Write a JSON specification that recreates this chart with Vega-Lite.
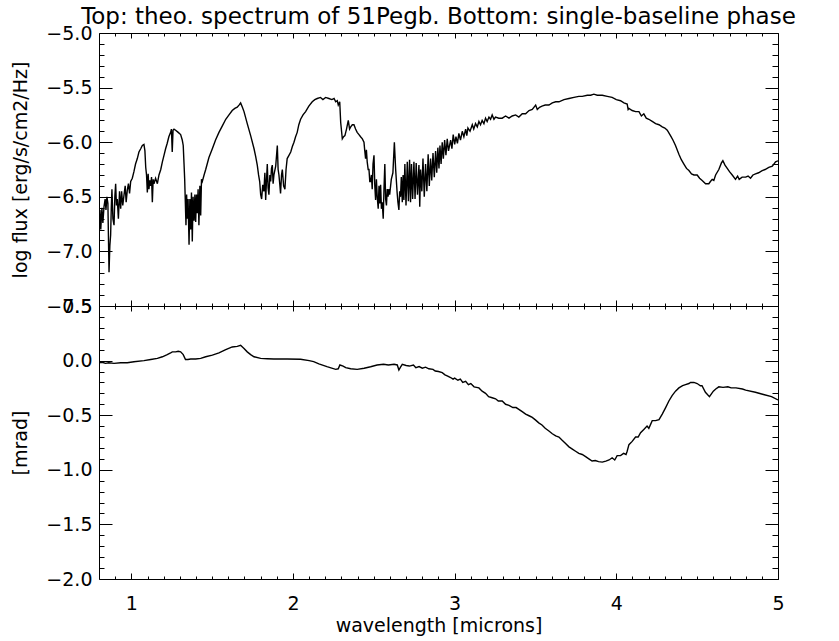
{
  "$schema": "https://vega.github.io/schema/vega-lite/v6.json",
  "background": "white",
  "padding": {"left": 11, "top": 5, "right": 5, "bottom": 5},
  "datasets": {
    "flux": [
      {"wl":0.800,"f":-6.71},{"wl":0.806,"f":-6.62},{"wl":0.811,"f":-6.80},{"wl":0.818,"f":-6.60},{"wl":0.824,"f":-6.74},{"wl":0.831,"f":-6.59},{"wl":0.838,"f":-6.52},{"wl":0.843,"f":-6.62},{"wl":0.849,"f":-6.50},{"wl":0.855,"f":-6.56},{"wl":0.862,"f":-7.19},{"wl":0.867,"f":-6.95},{"wl":0.872,"f":-6.85},{"wl":0.876,"f":-6.60},{"wl":0.880,"f":-6.43},{"wl":0.886,"f":-6.70},{"wl":0.893,"f":-6.76},{"wl":0.898,"f":-6.50},{"wl":0.903,"f":-6.38},{"wl":0.908,"f":-6.58},{"wl":0.913,"f":-6.52},{"wl":0.920,"f":-6.70},{"wl":0.927,"f":-6.45},{"wl":0.934,"f":-6.61},{"wl":0.940,"f":-6.45},{"wl":0.947,"f":-6.58},{"wl":0.955,"f":-6.48},{"wl":0.962,"f":-6.40},{"wl":0.968,"f":-6.55},{"wl":0.975,"f":-6.44},{"wl":0.982,"f":-6.38},{"wl":0.989,"f":-6.47},{"wl":0.996,"f":-6.36},{"wl":1.006,"f":-6.33},{"wl":1.016,"f":-6.27},{"wl":1.026,"f":-6.20},{"wl":1.037,"f":-6.15},{"wl":1.047,"f":-6.09},{"wl":1.058,"f":-6.06},{"wl":1.068,"f":-6.03},{"wl":1.078,"f":-6.02},{"wl":1.084,"f":-6.08},{"wl":1.089,"f":-6.23},{"wl":1.094,"f":-6.30},{"wl":1.099,"f":-6.46},{"wl":1.104,"f":-6.29},{"wl":1.109,"f":-6.43},{"wl":1.114,"f":-6.35},{"wl":1.120,"f":-6.40},{"wl":1.125,"f":-6.32},{"wl":1.130,"f":-6.55},{"wl":1.135,"f":-6.34},{"wl":1.140,"f":-6.38},{"wl":1.150,"f":-6.33},{"wl":1.161,"f":-6.38},{"wl":1.171,"f":-6.30},{"wl":1.182,"f":-6.25},{"wl":1.192,"f":-6.18},{"wl":1.202,"f":-6.12},{"wl":1.212,"f":-6.06},{"wl":1.222,"f":-6.01},{"wl":1.232,"f":-5.95},{"wl":1.243,"f":-5.91},{"wl":1.248,"f":-5.88},{"wl":1.253,"f":-6.09},{"wl":1.258,"f":-5.89},{"wl":1.264,"f":-5.88},{"wl":1.274,"f":-5.89},{"wl":1.290,"f":-5.91},{"wl":1.305,"f":-5.93},{"wl":1.315,"f":-5.98},{"wl":1.321,"f":-6.03},{"wl":1.326,"f":-6.20},{"wl":1.330,"f":-6.34},{"wl":1.334,"f":-6.55},{"wl":1.338,"f":-6.76},{"wl":1.342,"f":-6.48},{"wl":1.346,"f":-6.70},{"wl":1.351,"f":-6.52},{"wl":1.357,"f":-6.94},{"wl":1.362,"f":-6.52},{"wl":1.367,"f":-6.80},{"wl":1.372,"f":-6.46},{"wl":1.377,"f":-6.91},{"wl":1.382,"f":-6.50},{"wl":1.388,"f":-6.72},{"wl":1.393,"f":-6.48},{"wl":1.398,"f":-6.73},{"wl":1.403,"f":-6.48},{"wl":1.408,"f":-6.65},{"wl":1.413,"f":-6.43},{"wl":1.418,"f":-6.76},{"wl":1.424,"f":-6.40},{"wl":1.429,"f":-6.67},{"wl":1.434,"f":-6.34},{"wl":1.439,"f":-6.36},{"wl":1.450,"f":-6.30},{"wl":1.460,"f":-6.25},{"wl":1.480,"f":-6.14},{"wl":1.501,"f":-6.06},{"wl":1.521,"f":-5.98},{"wl":1.542,"f":-5.91},{"wl":1.563,"f":-5.85},{"wl":1.584,"f":-5.79},{"wl":1.604,"f":-5.75},{"wl":1.624,"f":-5.71},{"wl":1.640,"f":-5.69},{"wl":1.655,"f":-5.68},{"wl":1.666,"f":-5.66},{"wl":1.676,"f":-5.64},{"wl":1.687,"f":-5.68},{"wl":1.697,"f":-5.72},{"wl":1.717,"f":-5.83},{"wl":1.738,"f":-5.94},{"wl":1.759,"f":-6.06},{"wl":1.769,"f":-6.13},{"wl":1.779,"f":-6.21},{"wl":1.787,"f":-6.30},{"wl":1.794,"f":-6.36},{"wl":1.800,"f":-6.48},{"wl":1.806,"f":-6.52},{"wl":1.813,"f":-6.39},{"wl":1.820,"f":-6.45},{"wl":1.826,"f":-6.28},{"wl":1.831,"f":-6.53},{"wl":1.836,"f":-6.35},{"wl":1.841,"f":-6.20},{"wl":1.846,"f":-6.42},{"wl":1.851,"f":-6.48},{"wl":1.857,"f":-6.30},{"wl":1.862,"f":-6.36},{"wl":1.867,"f":-6.24},{"wl":1.872,"f":-6.21},{"wl":1.877,"f":-6.38},{"wl":1.882,"f":-6.30},{"wl":1.893,"f":-6.22},{"wl":1.903,"f":-6.03},{"wl":1.908,"f":-6.25},{"wl":1.913,"f":-6.30},{"wl":1.918,"f":-6.38},{"wl":1.923,"f":-6.47},{"wl":1.929,"f":-6.30},{"wl":1.934,"f":-6.25},{"wl":1.942,"f":-6.40},{"wl":1.950,"f":-6.43},{"wl":1.957,"f":-6.25},{"wl":1.964,"f":-6.15},{"wl":1.975,"f":-6.12},{"wl":1.986,"f":-6.09},{"wl":1.996,"f":-6.04},{"wl":2.006,"f":-6.00},{"wl":2.016,"f":-5.95},{"wl":2.026,"f":-5.91},{"wl":2.036,"f":-5.84},{"wl":2.047,"f":-5.79},{"wl":2.062,"f":-5.75},{"wl":2.078,"f":-5.72},{"wl":2.098,"f":-5.67},{"wl":2.119,"f":-5.63},{"wl":2.135,"f":-5.61},{"wl":2.150,"f":-5.60},{"wl":2.170,"f":-5.59},{"wl":2.185,"f":-5.61},{"wl":2.202,"f":-5.59},{"wl":2.222,"f":-5.60},{"wl":2.240,"f":-5.61},{"wl":2.254,"f":-5.60},{"wl":2.264,"f":-5.63},{"wl":2.274,"f":-5.62},{"wl":2.280,"f":-5.66},{"wl":2.289,"f":-5.63},{"wl":2.295,"f":-5.82},{"wl":2.305,"f":-5.97},{"wl":2.313,"f":-5.95},{"wl":2.321,"f":-5.94},{"wl":2.331,"f":-5.88},{"wl":2.342,"f":-5.80},{"wl":2.350,"f":-5.88},{"wl":2.357,"f":-5.86},{"wl":2.367,"f":-5.84},{"wl":2.377,"f":-5.84},{"wl":2.387,"f":-5.88},{"wl":2.397,"f":-5.91},{"wl":2.408,"f":-5.93},{"wl":2.418,"f":-5.95},{"wl":2.429,"f":-5.97},{"wl":2.439,"f":-6.00},{"wl":2.444,"f":-6.08},{"wl":2.449,"f":-6.15},{"wl":2.454,"f":-6.07},{"wl":2.459,"f":-6.18},{"wl":2.465,"f":-6.25},{"wl":2.470,"f":-6.25},{"wl":2.475,"f":-6.36},{"wl":2.480,"f":-6.36},{"wl":2.485,"f":-6.30},{"wl":2.490,"f":-6.43},{"wl":2.495,"f":-6.20},{"wl":2.501,"f":-6.12},{"wl":2.506,"f":-6.40},{"wl":2.511,"f":-6.53},{"wl":2.516,"f":-6.34},{"wl":2.521,"f":-6.50},{"wl":2.527,"f":-6.61},{"wl":2.532,"f":-6.40},{"wl":2.537,"f":-6.56},{"wl":2.542,"f":-6.39},{"wl":2.547,"f":-6.61},{"wl":2.552,"f":-6.55},{"wl":2.558,"f":-6.70},{"wl":2.563,"f":-6.42},{"wl":2.568,"f":-6.20},{"wl":2.573,"f":-6.52},{"wl":2.578,"f":-6.58},{"wl":2.583,"f":-6.43},{"wl":2.588,"f":-6.50},{"wl":2.593,"f":-6.43},{"wl":2.598,"f":-6.48},{"wl":2.608,"f":-6.34},{"wl":2.618,"f":-6.28},{"wl":2.627,"f":-6.00},{"wl":2.635,"f":-6.25},{"wl":2.644,"f":-6.46},{"wl":2.649,"f":-6.55},{"wl":2.655,"f":-6.62},{"wl":2.660,"f":-6.45},{"wl":2.665,"f":-6.50},{"wl":2.670,"f":-6.32},{"wl":2.676,"f":-6.55},{"wl":2.681,"f":-6.30},{"wl":2.686,"f":-6.53},{"wl":2.692,"f":-6.20},{"wl":2.699,"f":-6.58},{"wl":2.707,"f":-6.18},{"wl":2.714,"f":-6.54},{"wl":2.721,"f":-6.16},{"wl":2.727,"f":-6.55},{"wl":2.733,"f":-6.20},{"wl":2.740,"f":-6.52},{"wl":2.748,"f":-6.18},{"wl":2.755,"f":-6.52},{"wl":2.762,"f":-6.19},{"wl":2.770,"f":-6.48},{"wl":2.779,"f":-6.21},{"wl":2.784,"f":-6.59},{"wl":2.789,"f":-6.25},{"wl":2.797,"f":-6.45},{"wl":2.804,"f":-6.15},{"wl":2.812,"f":-6.50},{"wl":2.820,"f":-6.20},{"wl":2.828,"f":-6.45},{"wl":2.836,"f":-6.11},{"wl":2.843,"f":-6.40},{"wl":2.851,"f":-6.15},{"wl":2.858,"f":-6.35},{"wl":2.866,"f":-6.10},{"wl":2.874,"f":-6.32},{"wl":2.882,"f":-6.08},{"wl":2.889,"f":-6.28},{"wl":2.896,"f":-6.05},{"wl":2.903,"f":-6.24},{"wl":2.909,"f":-6.03},{"wl":2.916,"f":-6.20},{"wl":2.923,"f":-6.00},{"wl":2.930,"f":-6.15},{"wl":2.938,"f":-5.98},{"wl":2.946,"f":-6.12},{"wl":2.954,"f":-5.97},{"wl":2.962,"f":-6.08},{"wl":2.975,"f":-5.98},{"wl":2.983,"f":-6.06},{"wl":2.991,"f":-5.93},{"wl":3.000,"f":-6.02},{"wl":3.008,"f":-5.95},{"wl":3.017,"f":-6.01},{"wl":3.026,"f":-5.92},{"wl":3.036,"f":-5.98},{"wl":3.047,"f":-5.90},{"wl":3.057,"f":-5.95},{"wl":3.068,"f":-5.88},{"wl":3.075,"f":-5.94},{"wl":3.082,"f":-5.87},{"wl":3.095,"f":-5.90},{"wl":3.109,"f":-5.84},{"wl":3.118,"f":-5.88},{"wl":3.129,"f":-5.83},{"wl":3.140,"f":-5.86},{"wl":3.150,"f":-5.81},{"wl":3.160,"f":-5.84},{"wl":3.170,"f":-5.80},{"wl":3.181,"f":-5.83},{"wl":3.191,"f":-5.78},{"wl":3.201,"f":-5.81},{"wl":3.212,"f":-5.77},{"wl":3.222,"f":-5.79},{"wl":3.232,"f":-5.75},{"wl":3.243,"f":-5.79},{"wl":3.253,"f":-5.77},{"wl":3.273,"f":-5.78},{"wl":3.294,"f":-5.78},{"wl":3.315,"f":-5.76},{"wl":3.336,"f":-5.78},{"wl":3.356,"f":-5.76},{"wl":3.377,"f":-5.75},{"wl":3.397,"f":-5.77},{"wl":3.418,"f":-5.74},{"wl":3.439,"f":-5.74},{"wl":3.460,"f":-5.71},{"wl":3.480,"f":-5.70},{"wl":3.501,"f":-5.66},{"wl":3.511,"f":-5.70},{"wl":3.525,"f":-5.68},{"wl":3.540,"f":-5.67},{"wl":3.560,"f":-5.66},{"wl":3.583,"f":-5.66},{"wl":3.604,"f":-5.64},{"wl":3.625,"f":-5.63},{"wl":3.645,"f":-5.63},{"wl":3.676,"f":-5.61},{"wl":3.707,"f":-5.60},{"wl":3.738,"f":-5.59},{"wl":3.768,"f":-5.58},{"wl":3.789,"f":-5.58},{"wl":3.820,"f":-5.57},{"wl":3.841,"f":-5.57},{"wl":3.861,"f":-5.56},{"wl":3.882,"f":-5.57},{"wl":3.913,"f":-5.57},{"wl":3.944,"f":-5.58},{"wl":3.974,"f":-5.59},{"wl":4.000,"f":-5.61},{"wl":4.026,"f":-5.62},{"wl":4.047,"f":-5.64},{"wl":4.067,"f":-5.65},{"wl":4.073,"f":-5.70},{"wl":4.078,"f":-5.69},{"wl":4.098,"f":-5.71},{"wl":4.119,"f":-5.72},{"wl":4.140,"f":-5.72},{"wl":4.155,"f":-5.76},{"wl":4.170,"f":-5.74},{"wl":4.185,"f":-5.78},{"wl":4.201,"f":-5.79},{"wl":4.222,"f":-5.81},{"wl":4.243,"f":-5.83},{"wl":4.264,"f":-5.84},{"wl":4.284,"f":-5.86},{"wl":4.300,"f":-5.87},{"wl":4.315,"f":-5.89},{"wl":4.335,"f":-5.94},{"wl":4.350,"f":-5.98},{"wl":4.366,"f":-6.03},{"wl":4.387,"f":-6.11},{"wl":4.402,"f":-6.16},{"wl":4.418,"f":-6.20},{"wl":4.434,"f":-6.24},{"wl":4.449,"f":-6.26},{"wl":4.465,"f":-6.29},{"wl":4.480,"f":-6.30},{"wl":4.490,"f":-6.30},{"wl":4.500,"f":-6.30},{"wl":4.515,"f":-6.33},{"wl":4.531,"f":-6.35},{"wl":4.552,"f":-6.38},{"wl":4.572,"f":-6.38},{"wl":4.582,"f":-6.36},{"wl":4.593,"f":-6.34},{"wl":4.603,"f":-6.35},{"wl":4.614,"f":-6.30},{"wl":4.634,"f":-6.25},{"wl":4.650,"f":-6.19},{"wl":4.659,"f":-6.17},{"wl":4.672,"f":-6.21},{"wl":4.686,"f":-6.24},{"wl":4.700,"f":-6.27},{"wl":4.717,"f":-6.30},{"wl":4.737,"f":-6.34},{"wl":4.750,"f":-6.31},{"wl":4.760,"f":-6.34},{"wl":4.778,"f":-6.32},{"wl":4.800,"f":-6.32},{"wl":4.815,"f":-6.31},{"wl":4.830,"f":-6.33},{"wl":4.845,"f":-6.30},{"wl":4.861,"f":-6.29},{"wl":4.880,"f":-6.28},{"wl":4.902,"f":-6.26},{"wl":4.920,"f":-6.25},{"wl":4.943,"f":-6.23},{"wl":4.965,"f":-6.22},{"wl":4.985,"f":-6.18},{"wl":5.000,"f":-6.17}
    ],
    "phase": [
      {"wl":0.800,"p":-0.02},{"wl":0.820,"p":-0.015},{"wl":0.840,"p":-0.025},{"wl":0.860,"p":-0.02},{"wl":0.893,"p":-0.025},{"wl":0.934,"p":-0.02},{"wl":0.975,"p":-0.02},{"wl":1.016,"p":-0.01},{"wl":1.078,"p":0.0},{"wl":1.120,"p":0.01},{"wl":1.161,"p":0.02},{"wl":1.192,"p":0.035},{"wl":1.222,"p":0.055},{"wl":1.243,"p":0.07},{"wl":1.253,"p":0.08},{"wl":1.274,"p":0.08},{"wl":1.290,"p":0.085},{"wl":1.305,"p":0.08},{"wl":1.321,"p":0.055},{"wl":1.335,"p":0.01},{"wl":1.350,"p":0.01},{"wl":1.367,"p":0.015},{"wl":1.398,"p":0.015},{"wl":1.429,"p":0.02},{"wl":1.460,"p":0.035},{"wl":1.501,"p":0.05},{"wl":1.542,"p":0.07},{"wl":1.584,"p":0.10},{"wl":1.624,"p":0.125},{"wl":1.655,"p":0.13},{"wl":1.676,"p":0.14},{"wl":1.697,"p":0.11},{"wl":1.717,"p":0.08},{"wl":1.738,"p":0.055},{"wl":1.759,"p":0.035},{"wl":1.800,"p":0.02},{"wl":1.841,"p":0.017},{"wl":1.882,"p":0.015},{"wl":1.964,"p":0.015},{"wl":2.047,"p":0.012},{"wl":2.100,"p":0.0},{"wl":2.128,"p":-0.01},{"wl":2.160,"p":-0.03},{"wl":2.210,"p":-0.055},{"wl":2.264,"p":-0.08},{"wl":2.280,"p":-0.075},{"wl":2.290,"p":-0.04},{"wl":2.310,"p":-0.05},{"wl":2.326,"p":-0.065},{"wl":2.357,"p":-0.075},{"wl":2.397,"p":-0.08},{"wl":2.440,"p":-0.07},{"wl":2.480,"p":-0.056},{"wl":2.520,"p":-0.04},{"wl":2.560,"p":-0.034},{"wl":2.590,"p":-0.04},{"wl":2.625,"p":-0.034},{"wl":2.645,"p":-0.04},{"wl":2.655,"p":-0.086},{"wl":2.665,"p":-0.06},{"wl":2.676,"p":-0.035},{"wl":2.700,"p":-0.045},{"wl":2.720,"p":-0.05},{"wl":2.745,"p":-0.04},{"wl":2.760,"p":-0.065},{"wl":2.780,"p":-0.055},{"wl":2.800,"p":-0.07},{"wl":2.820,"p":-0.06},{"wl":2.840,"p":-0.075},{"wl":2.866,"p":-0.08},{"wl":2.880,"p":-0.095},{"wl":2.900,"p":-0.10},{"wl":2.923,"p":-0.11},{"wl":2.940,"p":-0.13},{"wl":2.954,"p":-0.14},{"wl":2.975,"p":-0.155},{"wl":2.990,"p":-0.17},{"wl":3.000,"p":-0.16},{"wl":3.020,"p":-0.18},{"wl":3.035,"p":-0.17},{"wl":3.050,"p":-0.20},{"wl":3.068,"p":-0.19},{"wl":3.085,"p":-0.22},{"wl":3.100,"p":-0.21},{"wl":3.120,"p":-0.24},{"wl":3.150,"p":-0.25},{"wl":3.170,"p":-0.28},{"wl":3.191,"p":-0.30},{"wl":3.210,"p":-0.33},{"wl":3.232,"p":-0.34},{"wl":3.253,"p":-0.35},{"wl":3.270,"p":-0.37},{"wl":3.294,"p":-0.37},{"wl":3.315,"p":-0.40},{"wl":3.336,"p":-0.41},{"wl":3.360,"p":-0.43},{"wl":3.380,"p":-0.43},{"wl":3.397,"p":-0.446},{"wl":3.420,"p":-0.47},{"wl":3.439,"p":-0.49},{"wl":3.460,"p":-0.505},{"wl":3.480,"p":-0.52},{"wl":3.501,"p":-0.545},{"wl":3.520,"p":-0.57},{"wl":3.540,"p":-0.59},{"wl":3.560,"p":-0.62},{"wl":3.583,"p":-0.645},{"wl":3.604,"p":-0.67},{"wl":3.625,"p":-0.69},{"wl":3.645,"p":-0.70},{"wl":3.665,"p":-0.73},{"wl":3.686,"p":-0.76},{"wl":3.707,"p":-0.79},{"wl":3.728,"p":-0.81},{"wl":3.748,"p":-0.83},{"wl":3.768,"p":-0.85},{"wl":3.789,"p":-0.86},{"wl":3.810,"p":-0.88},{"wl":3.830,"p":-0.90},{"wl":3.850,"p":-0.92},{"wl":3.870,"p":-0.915},{"wl":3.890,"p":-0.925},{"wl":3.913,"p":-0.93},{"wl":3.935,"p":-0.92},{"wl":3.955,"p":-0.91},{"wl":3.974,"p":-0.89},{"wl":3.990,"p":-0.91},{"wl":4.005,"p":-0.87},{"wl":4.026,"p":-0.87},{"wl":4.045,"p":-0.85},{"wl":4.060,"p":-0.86},{"wl":4.067,"p":-0.83},{"wl":4.078,"p":-0.77},{"wl":4.098,"p":-0.74},{"wl":4.119,"p":-0.70},{"wl":4.135,"p":-0.70},{"wl":4.150,"p":-0.66},{"wl":4.170,"p":-0.63},{"wl":4.190,"p":-0.60},{"wl":4.201,"p":-0.62},{"wl":4.222,"p":-0.55},{"wl":4.243,"p":-0.55},{"wl":4.264,"p":-0.54},{"wl":4.284,"p":-0.49},{"wl":4.305,"p":-0.43},{"wl":4.325,"p":-0.37},{"wl":4.345,"p":-0.32},{"wl":4.366,"p":-0.28},{"wl":4.387,"p":-0.25},{"wl":4.410,"p":-0.23},{"wl":4.428,"p":-0.22},{"wl":4.449,"p":-0.21},{"wl":4.459,"p":-0.20},{"wl":4.480,"p":-0.20},{"wl":4.500,"p":-0.21},{"wl":4.520,"p":-0.23},{"wl":4.530,"p":-0.23},{"wl":4.551,"p":-0.29},{"wl":4.576,"p":-0.33},{"wl":4.600,"p":-0.28},{"wl":4.615,"p":-0.26},{"wl":4.634,"p":-0.24},{"wl":4.660,"p":-0.245},{"wl":4.690,"p":-0.24},{"wl":4.710,"p":-0.25},{"wl":4.740,"p":-0.25},{"wl":4.780,"p":-0.26},{"wl":4.800,"p":-0.27},{"wl":4.860,"p":-0.29},{"wl":4.910,"p":-0.31},{"wl":4.960,"p":-0.33},{"wl":5.000,"p":-0.36}
    ]
  },
  "spacing": 0,
  "bounds": "flush",
  "vconcat": [
    {
      "width": 679,
      "height": 273,
      "title": {"text": "Top: theo. spectrum of 51Pegb. Bottom: single-baseline phase", "frame": "group", "anchor": "middle", "offset": -5, "fontSize": 23, "font": "DejaVu Sans", "fontWeight": "normal", "color": "black"},
      "data": {"name": "flux"},
      "resolve": {"axis": {"x": "independent", "y": "independent"}},
      "layer": [
        {
          "mark": {"type": "line", "color": "black", "strokeWidth": 1.4, "clip": true},
          "encoding": {
            "x": {"field": "wl", "type": "quantitative", "scale": {"domain": [0.8, 5], "nice": false, "zero": false},
                  "axis": {"orient": "bottom", "values": [1, 2, 3, 4, 5], "tickSize": -6, "labels": false, "title": null}},
            "y": {"field": "f", "type": "quantitative", "scale": {"domain": [-7.5, -5], "nice": false, "zero": false},
                  "axis": {"orient": "left", "values": [-7.5, -7, -6.5, -6, -5.5, -5], "format": ".1f", "tickSize": -13, "labelPadding": 20, "title": "log flux [erg/s/cm2/Hz]", "titlePadding": 15}}
          }
        },
        {
          "mark": {"type": "line", "strokeOpacity": 0},
          "encoding": {
            "x": {"field": "wl", "type": "quantitative", "scale": {"domain": [0.8, 5], "nice": false, "zero": false},
                  "axis": {"orient": "bottom", "values": [0.9,1.1,1.2,1.3,1.4,1.5,1.6,1.7,1.8,1.9,2.1,2.2,2.3,2.4,2.5,2.6,2.7,2.8,2.9,3.1,3.2,3.3,3.4,3.5,3.6,3.7,3.8,3.9,4.1,4.2,4.3,4.4,4.5,4.6,4.7,4.8,4.9], "tickSize": -3, "labels": false, "title": null}},
            "y": {"field": "f", "type": "quantitative", "scale": {"domain": [-7.5, -5], "nice": false, "zero": false},
                  "axis": {"orient": "left", "values": [-7.4,-7.3,-7.2,-7.1,-6.9,-6.8,-6.7,-6.6,-6.4,-6.3,-6.2,-6.1,-5.9,-5.8,-5.7,-5.6,-5.4,-5.3,-5.2,-5.1], "tickSize": -5, "labels": false, "title": null}}
          }
        },
        {
          "mark": {"type": "line", "strokeOpacity": 0},
          "encoding": {
            "x": {"field": "wl", "type": "quantitative", "scale": {"domain": [0.8, 5], "nice": false, "zero": false},
                  "axis": {"orient": "top", "values": [1, 2, 3, 4, 5], "tickSize": -5, "labels": false, "title": null}},
            "y": {"field": "f", "type": "quantitative", "scale": {"domain": [-7.5, -5], "nice": false, "zero": false},
                  "axis": {"orient": "right", "values": [-7.5, -7, -6.5, -6, -5.5, -5], "tickSize": -13, "labels": false, "title": null}}
          }
        },
        {
          "mark": {"type": "line", "strokeOpacity": 0},
          "encoding": {
            "x": {"field": "wl", "type": "quantitative", "scale": {"domain": [0.8, 5], "nice": false, "zero": false},
                  "axis": {"orient": "top", "values": [0.9,1.1,1.2,1.3,1.4,1.5,1.6,1.7,1.8,1.9,2.1,2.2,2.3,2.4,2.5,2.6,2.7,2.8,2.9,3.1,3.2,3.3,3.4,3.5,3.6,3.7,3.8,3.9,4.1,4.2,4.3,4.4,4.5,4.6,4.7,4.8,4.9], "tickSize": -3, "labels": false, "title": null}},
            "y": {"field": "f", "type": "quantitative", "scale": {"domain": [-7.5, -5], "nice": false, "zero": false},
                  "axis": {"orient": "right", "values": [-7.4,-7.3,-7.2,-7.1,-6.9,-6.8,-6.7,-6.6,-6.4,-6.3,-6.2,-6.1,-5.9,-5.8,-5.7,-5.6,-5.4,-5.3,-5.2,-5.1], "tickSize": -6, "labels": false, "title": null}}
          }
        }
      ]
    },
    {
      "width": 679,
      "height": 273,
      "data": {"name": "phase"},
      "resolve": {"axis": {"x": "independent", "y": "independent"}},
      "layer": [
        {
          "mark": {"type": "line", "color": "black", "strokeWidth": 1.4, "clip": true},
          "encoding": {
            "x": {"field": "wl", "type": "quantitative", "scale": {"domain": [0.8, 5], "nice": false, "zero": false},
                  "axis": {"orient": "bottom", "values": [1, 2, 3, 4, 5], "format": "d", "tickSize": -6, "labelPadding": 21, "labelFlush": false, "title": "wavelength [microns]", "titlePadding": 3}},
            "y": {"field": "p", "type": "quantitative", "scale": {"domain": [-2, 0.5], "nice": false, "zero": false},
                  "axis": {"orient": "left", "values": [-2, -1.5, -1, -0.5, 0, 0.5], "format": ".1f", "tickSize": -13, "labelPadding": 20, "title": "[mrad]", "titlePadding": 15}}
          }
        },
        {
          "mark": {"type": "line", "strokeOpacity": 0},
          "encoding": {
            "x": {"field": "wl", "type": "quantitative", "scale": {"domain": [0.8, 5], "nice": false, "zero": false},
                  "axis": {"orient": "bottom", "values": [0.9,1.1,1.2,1.3,1.4,1.5,1.6,1.7,1.8,1.9,2.1,2.2,2.3,2.4,2.5,2.6,2.7,2.8,2.9,3.1,3.2,3.3,3.4,3.5,3.6,3.7,3.8,3.9,4.1,4.2,4.3,4.4,4.5,4.6,4.7,4.8,4.9], "tickSize": -3, "labels": false, "title": null}},
            "y": {"field": "p", "type": "quantitative", "scale": {"domain": [-2, 0.5], "nice": false, "zero": false},
                  "axis": {"orient": "left", "values": [-1.9,-1.8,-1.7,-1.6,-1.4,-1.3,-1.2,-1.1,-0.9,-0.8,-0.7,-0.6,-0.4,-0.3,-0.2,-0.1,0.1,0.2,0.3,0.4], "tickSize": -5, "labels": false, "title": null}}
          }
        },
        {
          "mark": {"type": "line", "strokeOpacity": 0},
          "encoding": {
            "x": {"field": "wl", "type": "quantitative", "scale": {"domain": [0.8, 5], "nice": false, "zero": false},
                  "axis": {"orient": "top", "values": [1, 2, 3, 4, 5], "tickSize": -5, "labels": false, "title": null}},
            "y": {"field": "p", "type": "quantitative", "scale": {"domain": [-2, 0.5], "nice": false, "zero": false},
                  "axis": {"orient": "right", "values": [-2, -1.5, -1, -0.5, 0, 0.5], "tickSize": -13, "labels": false, "title": null}}
          }
        },
        {
          "mark": {"type": "line", "strokeOpacity": 0},
          "encoding": {
            "x": {"field": "wl", "type": "quantitative", "scale": {"domain": [0.8, 5], "nice": false, "zero": false},
                  "axis": {"orient": "top", "values": [0.9,1.1,1.2,1.3,1.4,1.5,1.6,1.7,1.8,1.9,2.1,2.2,2.3,2.4,2.5,2.6,2.7,2.8,2.9,3.1,3.2,3.3,3.4,3.5,3.6,3.7,3.8,3.9,4.1,4.2,4.3,4.4,4.5,4.6,4.7,4.8,4.9], "tickSize": -3, "labels": false, "title": null}},
            "y": {"field": "p", "type": "quantitative", "scale": {"domain": [-2, 0.5], "nice": false, "zero": false},
                  "axis": {"orient": "right", "values": [-1.9,-1.8,-1.7,-1.6,-1.4,-1.3,-1.2,-1.1,-0.9,-0.8,-0.7,-0.6,-0.4,-0.3,-0.2,-0.1,0.1,0.2,0.3,0.4], "tickSize": -6, "labels": false, "title": null}}
          }
        }
      ]
    }
  ],
  "config": {
    "view": {"stroke": "black", "strokeWidth": 1},
    "axis": {
      "domain": false,
      "grid": false,
      "tickColor": "black",
      "tickWidth": 1,
      "labelColor": "black",
      "titleColor": "black",
      "labelFont": "DejaVu Sans",
      "titleFont": "DejaVu Sans",
      "labelFontSize": 19,
      "titleFontSize": 19,
      "titleFontWeight": "normal",
      "labelFontWeight": "normal"
    }
  }
}
